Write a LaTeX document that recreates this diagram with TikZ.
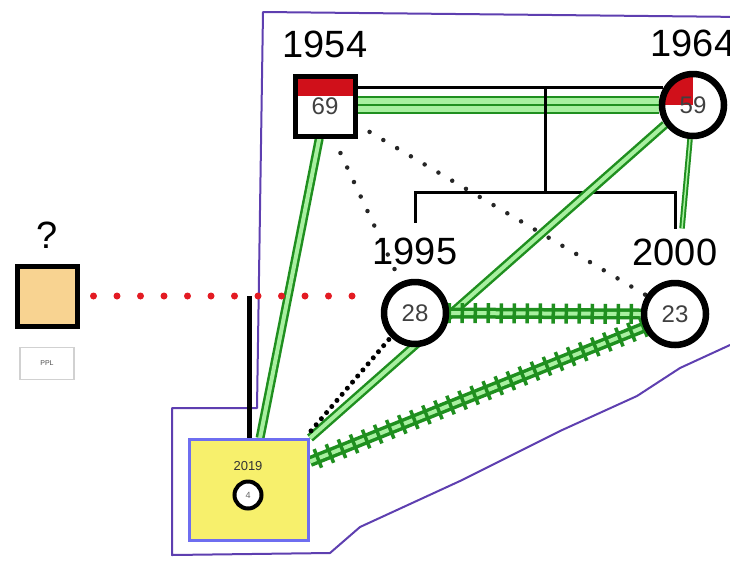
\documentclass[tikz,border=0pt]{standalone}
\usepackage{fontspec}
\setmainfont{Liberation Sans}
\usetikzlibrary{positioning,backgrounds,decorations.pathreplacing}

\definecolor{gdark}{HTML}{1F8F1F}
\definecolor{glight}{HTML}{A8F0A0}
\definecolor{hullline}{HTML}{5E3FB0}
\definecolor{pplred}{HTML}{E31B23}
\definecolor{redpart}{HTML}{D0101A}
\definecolor{unkfill}{HTML}{F8D391}
\definecolor{kidfill}{HTML}{F7F06C}
\definecolor{kidline}{HTML}{6E6EF0}

\begin{document}
\begin{tikzpicture}[x=1pt, y=-1pt,
	male/.style={rectangle, draw=black, line width=5pt, minimum size=60pt, inner sep=0pt, fill=white, text=black!75, font=\fontsize{24}{24}\selectfont},
	female/.style={circle, draw=black, line width=6.5pt, minimum size=62pt, inner sep=0pt, fill=white, text=black!75, font=\fontsize{24}{24}\selectfont},
	year/.style={inner sep=2pt, font=\fontsize{38}{38}\selectfont},
	pplbox/.style={rectangle, draw=black!18, line width=1.2pt, minimum width=54pt, minimum height=32pt, text=black!70, font=\fontsize{7}{7}\selectfont},
	childbox/.style={rectangle, draw=kidline, line width=3pt, fill=kidfill, minimum width=119pt, minimum height=101pt},
	smallcirc/.style={circle, draw=black, line width=4pt, fill=white, minimum size=27pt, inner sep=0pt, text=black!60, font=\fontsize{9}{9}\selectfont},
	smallyear/.style={inner sep=1pt, text=black!80, font=\fontsize{13}{13}\selectfont},
	hull/.style={draw=hullline, line width=2pt, line join=round},
	kin/.style={draw=black, line width=3pt},
	childline/.style={draw=black, line width=5pt},
	harmonyrel/.style={draw=gdark, double=glight, line width=2pt, double distance=1.5pt},
	closerel/.style={draw=gdark, double=glight, line width=2.5pt, double distance=4pt},
	fusedrel/.style={draw=gdark, line width=2pt, preaction={draw=gdark, line width=18pt}, preaction={draw=glight, line width=14pt}},
	hostilerel/.style={draw=gdark, line width=11pt, postaction={draw=glight, line width=4pt}, postaction={draw=gdark, line width=3.5pt, decorate, decoration={ticks, segment length=13pt, amplitude=10pt}}},
	distantrel/.style={draw=black!85, line width=4.5pt, line cap=round, dash pattern=on 0pt off 16pt},
	distantnear/.style={draw=black, line width=5pt, line cap=round, dash pattern=on 0pt off 8pt},
	pplrel/.style={draw=pplred, line width=7pt, line cap=round, dash pattern=on 0pt off 23.5pt}
	]
	\useasboundingbox (0,0) rectangle (730,563);

		\node (man54) [male, path picture={\fill[redpart] (path picture bounding box.north west) rectangle ([yshift=-20pt]path picture bounding box.north east);}] at (325,106) {69};
		\node (woman64) [female, path picture={\fill[redpart] (path picture bounding box.center) rectangle (path picture bounding box.north west);}] at (693,105) {59};
			\node (woman95) [female] at (415,313) {28};
			\node (woman00) [female] at (675,314) {23};
		\node (unknown) [male, fill=unkfill] at (47,296) {};
			\node (ppl) [pplbox, below=18pt of unknown] {PPL};
		\node (child19) [childbox] at (249,490) {};
			\node (child19circ) [smallcirc] at (248,495) {4};
			\node (year19) [smallyear, above=8pt of child19circ] {2019};

		\node (year54) [year, above=13pt of man54] {1954};
		\node (year64) [year, above=12pt of woman64] {1964};
		\node (year95) [year, above=12pt of woman95] {1995};
		\node (year00) [year, above=12pt of woman00] {2000};
		\node (yearunk) [year, above=13pt of unknown] {?};

	\coordinate (famtop) at (545,88.5);

	\begin{scope}[on background layer]
	\draw [hull] (263,12) -- (745,17) -- (745,338) -- (730,345) -- (680,368) -- (637,396) -- (560,431) -- (460,481) -- (360,527) -- (330,553) -- (172,555) -- (172,408) -- (257,408) -- cycle;

	\draw [fusedrel] (man54.east |- woman64.west) -- (woman64.west);
	\draw [kin] (man54.east |- woman64.150) -- (woman64.150);
	\draw [kin, shorten >=12pt] (famtop)--++(0,104)-| (year95.north);
	\draw [kin, shorten >=7pt] (famtop)--++(0,104)-| (year00.north);

	\draw [closerel] (man54.-100) -- (child19.78);
	\draw [closerel] (woman64.215) -- (child19.north east);
	\draw [harmonyrel] (woman64.-95) -- ([xshift=7pt, yshift=8pt]year00.north);

	\draw [distantrel, shorten <=16pt] (man54.-75) -- (woman95.115);
	\draw [distantrel, shorten <=14pt] (man54.-30) -- (woman00.147);
	\draw [distantnear, shorten <=3pt] (woman95.225) -- ([yshift=6pt]child19.north east);

	\draw [hostilerel] (woman95.east) -- (woman00.west);
	\draw [hostilerel] (woman00.203) -- (child19.25);

	\draw [pplrel, shorten <=14pt, shorten >=10pt] (unknown.east) -- (unknown.east -| woman95.west);
	\draw [childline] (child19.north |- unknown.east) -- (child19.north);
	\end{scope}

	\end{tikzpicture}
\end{document}
